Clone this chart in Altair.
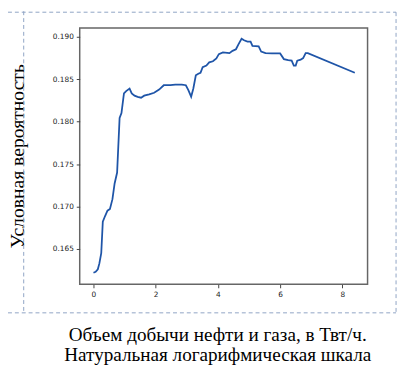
import altair as alt
import pandas as pd

x_vals = [0.00, 0.07, 0.14, 0.19, 0.25, 0.30, 0.37, 0.45, 0.53, 0.61, 0.68, 0.76,
          0.84, 0.90, 0.98, 1.05, 1.16, 1.23, 1.32, 1.42, 1.53, 1.63, 1.79, 1.95,
          2.11, 2.26, 2.47, 2.63, 2.84, 2.97, 3.05, 3.14, 3.21, 3.29, 3.37, 3.44,
          3.51, 3.63, 3.72, 3.84, 3.95, 4.03, 4.16, 4.37, 4.47, 4.58, 4.66, 4.76,
          4.84, 4.95, 5.05, 5.11, 5.31, 5.39, 5.53, 5.74, 6.00, 6.12, 6.26, 6.37,
          6.44, 6.50, 6.55, 6.66, 6.74, 6.82, 6.89, 8.40]
y_vals = [0.1622, 0.1623, 0.1626, 0.1633, 0.1645, 0.1682, 0.16885, 0.16951, 0.16971,
          0.17087, 0.17272, 0.1740, 0.18043, 0.18101, 0.18332, 0.18360, 0.18390,
          0.18332, 0.18306, 0.18291, 0.18282, 0.18306, 0.18321, 0.18340, 0.18378,
          0.18429, 0.18429, 0.18436, 0.18436, 0.18429, 0.18372, 0.18294, 0.18390,
          0.18545, 0.18564, 0.18576, 0.18641, 0.18661, 0.18699, 0.18711, 0.18745,
          0.18795, 0.18815, 0.18807, 0.18834, 0.18853, 0.18911, 0.18977, 0.18958,
          0.18942, 0.18942, 0.18892, 0.18888, 0.18826, 0.18807, 0.18803, 0.18803,
          0.18737, 0.18726, 0.18719, 0.18661, 0.18661, 0.18719, 0.18730, 0.18749,
          0.18807, 0.18807, 0.18576]
x_ticks = [0, 2, 4, 6, 8]
y_ticks = [0.165, 0.170, 0.175, 0.180, 0.185, 0.190]
y_title = "Условная вероятность"
x_title = ["Объем добычи нефти и газа, в Твт/ч.", "Натуральная логарифмическая шкала"]

df = pd.DataFrame({"x": x_vals, "y": y_vals})

W, H = 293, 261

line = alt.Chart(df).mark_line(color="#1f55a8", strokeWidth=1.8).encode(
    x=alt.X("x:Q",
            scale=alt.Scale(domain=[-0.442, 8.81], nice=False, zero=False),
            axis=alt.Axis(values=x_ticks, format="d", title=x_title,
                          titleFont="Liberation Serif", titleFontSize=19.5,
                          titleFontWeight="normal", titleColor="#000000",
                          titleLineHeight=21, titleAlign="center",
                          titleBaseline="alphabetic", titleX=140, titleY=57,
                          labelFont="DejaVu Sans", labelFontSize=7.5,
                          labelColor="#222222", labelPadding=3,
                          tickColor="#444444", tickSize=3.5, tickWidth=1,
                          domain=False, grid=False)),
    y=alt.Y("y:Q",
            scale=alt.Scale(domain=[0.16083, 0.19104], nice=False, zero=False),
            axis=alt.Axis(values=y_ticks, format=".3f", title=y_title,
                          titleFont="Liberation Serif", titleFontSize=20,
                          titleFontWeight="normal", titleColor="#000000",
                          titleAngle=270, titleAlign="center",
                          titleBaseline="middle", titleX=-63, titleY=130,
                          labelFont="DejaVu Sans", labelFontSize=7.5,
                          labelColor="#222222", labelPadding=3,
                          tickColor="#444444", tickSize=3.5, tickWidth=1,
                          domain=False, grid=False)),
)

border_style = dict(color="#8fa3c4", strokeWidth=1, strokeDash=[4, 3])
top_rule = alt.Chart(df.head(1)).mark_rule(**border_style).encode(
    x=alt.value(-73), x2=alt.value(322), y=alt.value(-16))
bottom_rule = alt.Chart(df.head(1)).mark_rule(**border_style).encode(
    x=alt.value(-73), x2=alt.value(322), y=alt.value(290))
left_rule = alt.Chart(df.head(1)).mark_rule(**border_style).encode(
    x=alt.value(-57), y=alt.value(-17), y2=alt.value(290))
right_rule = alt.Chart(df.head(1)).mark_rule(**border_style).encode(
    x=alt.value(322), y=alt.value(-16), y2=alt.value(290))

chart = alt.layer(top_rule, bottom_rule, left_rule, right_rule, line).properties(
    width=W, height=H,
    background="white",
    autosize=alt.AutoSizeParams(type="none"),
    padding={"left": 73, "top": 17, "right": 32, "bottom": 90},
).configure_view(stroke="#666666", strokeWidth=1.5, fill="white")

chart.save("out.html", embed_options={"renderer": "svg", "actions": False})
